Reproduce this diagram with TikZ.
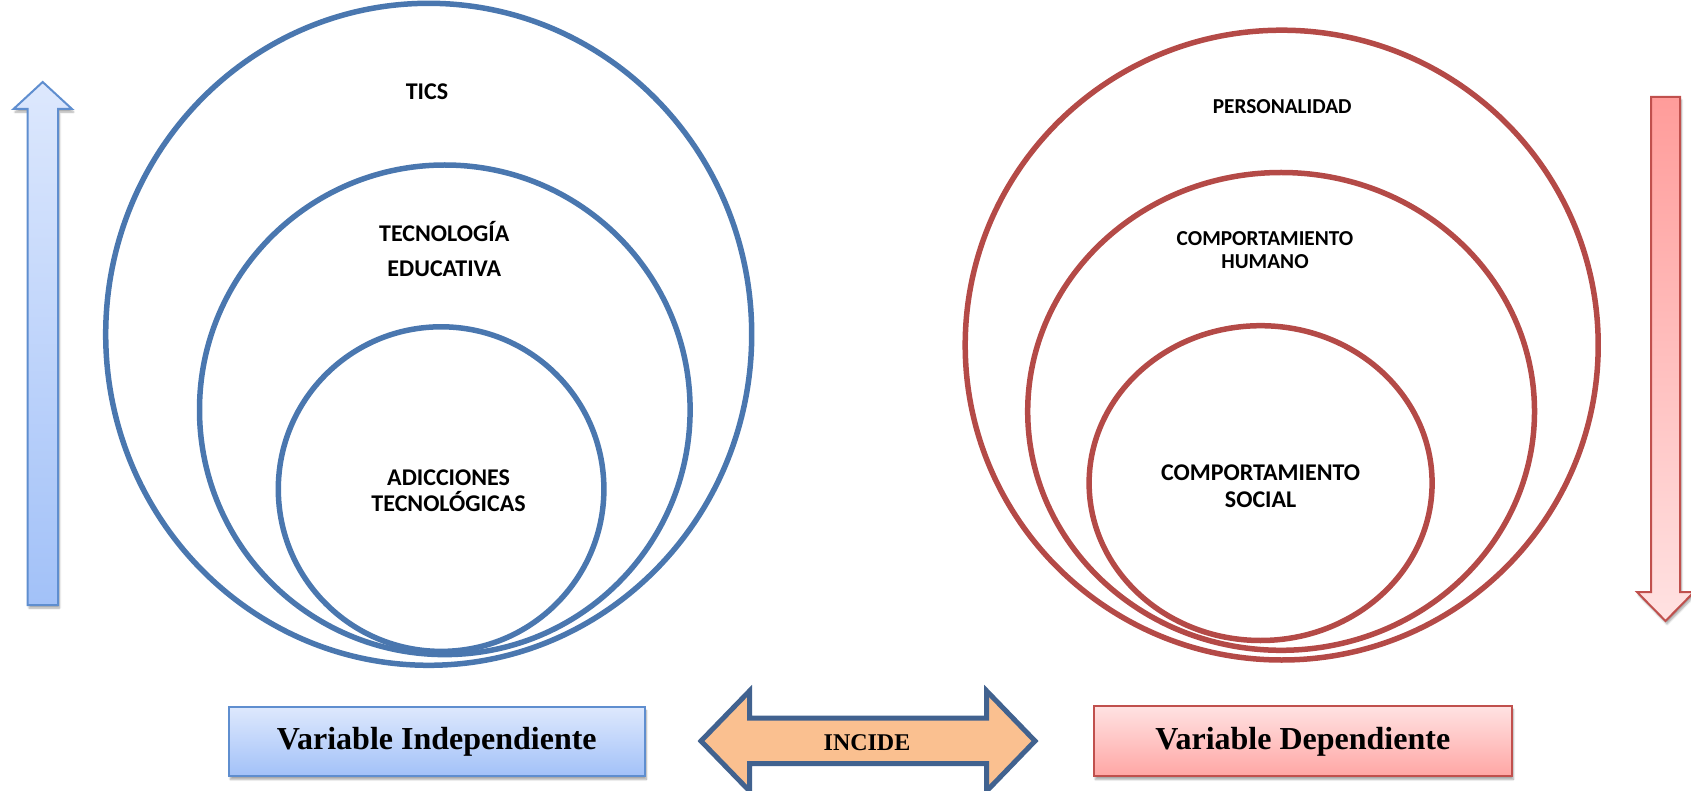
\documentclass[tikz,border=0pt]{standalone}
\usepackage{fontspec}
\setmainfont{Carlito}
\newfontfamily\timesf{Liberation Serif}
\usetikzlibrary{shadows.blur}
\definecolor{cblue}{HTML}{4A77AF}
\definecolor{cred}{HTML}{B44A47}
\definecolor{bluetop}{HTML}{DDE8FD}
\definecolor{bluebot}{HTML}{A2C1F8}
\definecolor{blueedge}{HTML}{5F8ECF}
\definecolor{redtop}{HTML}{FF9C9A}
\definecolor{redbot}{HTML}{FFE2E2}
\definecolor{rededge}{HTML}{C0504D}
\definecolor{orfill}{HTML}{FAC090}
\definecolor{oredge}{HTML}{41628F}
\begin{document}
\begin{tikzpicture}[x=1pt,y=-1pt,
  bring/.style={line width=5.5pt,draw=cblue},
  rring/.style={line width=5.5pt,draw=cred},
  lab/.style={font=\bfseries\fontsize{24}{26}\selectfont,align=center,inner sep=0pt},
  labs/.style={font=\bfseries\fontsize{21.3}{23.7}\selectfont,align=center,inner sep=0pt},
  labr/.style={font=\bfseries\fontsize{24}{27}\selectfont,align=center,inner sep=0pt},
  shad/.style={blur shadow={shadow xshift=1.5pt,shadow yshift=-3pt,shadow blur steps=6,shadow opacity=35}},
  upar/.style={draw=blueedge,line width=2pt,top color=bluetop,bottom color=bluebot,shad},
  downar/.style={draw=rededge,line width=2pt,top color=redtop,bottom color=redbot,shad},
  lbox/.style={draw=blueedge,line width=2pt,top color=bluetop,bottom color=bluebot,shad,
    minimum width=416pt,minimum height=69pt,inner sep=0pt,
    font=\timesf\bfseries\fontsize{32}{36}\selectfont},
  rbox/.style={draw=rededge,line width=2pt,top color=redbot,bottom color=redtop!90!white,shad,
    minimum width=418pt,minimum height=70pt,inner sep=0pt,
    font=\timesf\bfseries\fontsize{32}{36}\selectfont},
  incar/.style={draw=oredge,line width=5pt,fill=orfill,line join=miter},
  inclab/.style={font=\timesf\bfseries\fontsize{24}{26}\selectfont,inner sep=0pt}]
\useasboundingbox (0,0) rectangle (1691,791);

% left nested circles
\draw[bring] (428.7,334.3) ellipse [x radius=323pt, y radius=331pt];
\draw[bring] (444.8,409.8) ellipse [x radius=245.3pt, y radius=244.8pt];
\draw[bring] (441.1,489.1) ellipse [x radius=162.8pt, y radius=162.3pt];
\node[lab] (tics) at (427,91.7) {TICS};
\node[lab] (tec) at (444.3,231.9) {TECNOLOGÍA};
\node[lab] (edu) at (444.3,268.5) {EDUCATIVA};
\node[lab] (adic) at (448.6,490.6) {ADICCIONES\\TECNOLÓGICAS};

% right nested circles
\draw[rring] (1281.7,345.1) ellipse [x radius=316.5pt, y radius=314.9pt];
\draw[rring] (1281.1,411.4) ellipse [x radius=253.4pt, y radius=238.9pt];
\draw[rring] (1260.6,483.1) ellipse [x radius=171.5pt, y radius=157.4pt];
\node[labs] (pers) at (1282.2,106.8) {PERSONALIDAD};
\node[labs] (hum) at (1265,250.2) {COMPORTAMIENTO\\HUMANO};
\node[labr] (soc) at (1260.6,485.8) {COMPORTAMIENTO\\SOCIAL};

% side arrows
\path[upar] (27.5,605) -- (27.5,109) -- (13.5,109) -- (42.7,82) -- (72,109)
  -- (58,109) -- (58,605) -- cycle;
\path[downar] (1651,97) -- (1680,97) -- (1680,592) -- (1694,592) -- (1665.5,621)
  -- (1637,592) -- (1651,592) -- cycle;

% bottom boxes
\node[lbox] (vi) at (436.8,741.9) {Variable Independiente};
\node[rbox] (vd) at (1302.8,741.4) {Variable Dependiente};

% INCIDE double arrow
\path[incar] (701,741) -- (749.5,691) -- (749.5,718) -- (986.7,718) -- (986.7,691)
  -- (1035,741) -- (986.7,791) -- (986.7,763.5) -- (749.5,763.5) -- (749.5,791) -- cycle;
\node[inclab] (inc) at (867,743) {INCIDE};
\end{tikzpicture}
\end{document}
